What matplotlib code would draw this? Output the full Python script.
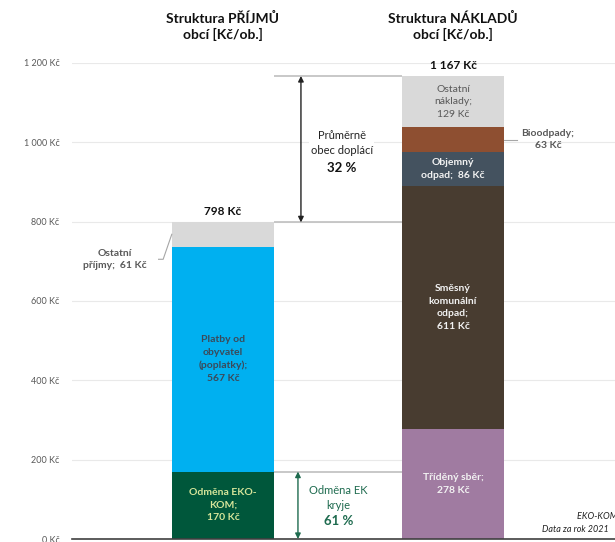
import matplotlib.pyplot as plt

plt.rcParams["font.family"] = ["Lato", "DejaVu Sans"]

# data
income_labels = ["Odměna EKO-\nKOM;\n170 Kč", "Platby od\nobyvatel\n(poplatky);\n567 Kč", "Ostatní\npříjmy;  61 Kč"]
income_values = [170, 567, 61]
income_colors = ["#00573B", "#00B0F0", "#D9D9D9"]
income_text_colors = ["#D6E59A", "#3B4A5A", None]

cost_labels = ["Tříděný sběr;\n278 Kč", "Směsný\nkomunální\nodpad;\n611 Kč", "Objemný\nodpad;  86 Kč",
               "Bioodpady;\n63 Kč", "Ostatní\nnáklady;\n129 Kč"]
cost_values = [278, 611, 86, 63, 129]
cost_colors = ["#A07BA1", "#483C30", "#44525F", "#8E4F31", "#D9D9D9"]
cost_text_colors = ["#F2F2F2", "#F2F2F2", "#F2F2F2", None, "#595959"]

titles = ["Struktura PŘÍJMŮ\nobcí [Kč/ob.]", "Struktura NÁKLADŮ\nobcí [Kč/ob.]"]
yticks = [0, 200, 400, 600, 800, 1000, 1200]
ytick_labels = ["0 Kč", "200 Kč", "400 Kč", "600 Kč", "800 Kč", "1 000 Kč", "1 200 Kč"]

income_total = sum(income_values)
cost_total = sum(cost_values)
share_city = round((cost_total - income_total) / cost_total * 100)
share_ek = round(income_values[0] / (cost_values[0]) * 100)

# layout
fig = plt.figure(figsize=(6.15, 5.42), dpi=100)
ax = fig.add_axes([0.117, 0.0055, 0.883, 0.8785])
w = 0.445

# income bar
bottom = 0
for val, col, lab, tc in zip(income_values, income_colors, income_labels, income_text_colors):
    ax.bar(0, val, w, bottom=bottom, color=col, zorder=2)
    if tc is not None:
        ax.text(0, bottom + val / 2, lab, ha="center", va="center", color=tc,
                fontsize=7.5, fontweight="bold", linespacing=1.5, zorder=3)
    bottom += val
# Ostatni prijmy outside label
ax.text(-0.47, income_total - income_values[2] / 2 - 63, income_labels[2], ha="center", va="center",
        color="#595959", fontsize=7.5, fontweight="bold", linespacing=1.5)
ax.plot([-w / 2, -0.26, -0.28], [768, 705, 705], color="#A6A6A6", lw=0.8)

# cost bar
bottom = 0
for val, col, lab, tc in zip(cost_values, cost_colors, cost_labels, cost_text_colors):
    ax.bar(1, val, w, bottom=bottom, color=col, zorder=2)
    if tc is not None:
        ax.text(1, bottom + val / 2, lab, ha="center", va="center", color=tc,
                fontsize=7.5, fontweight="bold" if tc != "#595959" else "normal",
                linespacing=1.5, zorder=3)
    bottom += val
bio_y = sum(cost_values[:3]) + cost_values[3] / 2
ax.text(1.413, bio_y, cost_labels[3], ha="center", va="center", color="#595959",
        fontsize=7.5, fontweight="bold", linespacing=1.5)
ax.plot([1 + w / 2, 1.278], [bio_y, bio_y], color="#A6A6A6", lw=0.8)

# totals
ax.text(0, income_total + 14, f"{income_total} Kč", ha="center", va="bottom",
        fontsize=8.5, fontweight="bold", color="#111111")
ax.text(1, cost_total + 12, f"{cost_total // 1000} {cost_total % 1000} Kč", ha="center", va="bottom",
        fontsize=8.5, fontweight="bold", color="#111111")

# titles
for xi, t in enumerate(titles):
    ax.text(xi, 1292, t, ha="center", va="center", fontsize=10, fontweight="bold",
            color="#111111", linespacing=1.3)

# connecting lines and arrows
for yv in [cost_total, income_total, income_values[0]]:
    ax.hlines(yv, w / 2, 1 - w / 2, color="#BFBFBF", lw=1.2, zorder=1)
ax.annotate("", xy=(0.339, cost_total), xytext=(0.339, income_total),
            arrowprops=dict(arrowstyle="<|-|>", color="#222222", lw=1.0,
                            mutation_scale=8, shrinkA=0, shrinkB=0))
ax.annotate("", xy=(0.326, income_values[0]), xytext=(0.326, 0),
            arrowprops=dict(arrowstyle="<|-|>", color="#1E6B4F", lw=1.0,
                            mutation_scale=8, shrinkA=0, shrinkB=0))

ax.text(0.517, 997, "Průměrně\nobec doplácí", ha="center", va="center", fontsize=8,
        color="#222222", linespacing=1.45,
        bbox=dict(facecolor="white", edgecolor="none", pad=1))
ax.text(0.517, 934, f"{share_city} %", ha="center", va="center", fontsize=9.5,
        fontweight="bold", color="#111111")
ax.text(0.502, 103, "Odměna EK\nkryje", ha="center", va="center", fontsize=8,
        color="#1E6B4F", linespacing=1.45)
ax.text(0.502, 45, f"{share_ek} %", ha="center", va="center", fontsize=9.5,
        fontweight="bold", color="#1E6B4F")

# source (cut at the right edge, as in the original)
ax.text(1.539, 58, "EKO-KOM, a.s.", ha="left", va="center", fontsize=6.5,
        style="italic", color="#222222", clip_on=False)
ax.text(1.387, 23, "Data za rok 2021", ha="left", va="center", fontsize=6.5,
        style="italic", color="#222222", clip_on=False)

# axes settings
ax.set_xlim(-0.6565, 1.7043)
ax.set_ylim(0, 1200)
ax.set_yticks(yticks)
ax.set_yticklabels(ytick_labels)
ax.tick_params(axis="y", length=0, pad=9, labelsize=6.5, labelcolor="#595959")
ax.set_xticks([])
ax.grid(axis="y", color="#E9E9E9", lw=0.8, zorder=0)
ax.set_axisbelow(True)
for s in ["left", "right", "top"]:
    ax.spines[s].set_visible(False)
ax.spines["bottom"].set_color("#404040")
ax.spines["bottom"].set_linewidth(1.2)

plt.savefig("out.png", dpi=100)
